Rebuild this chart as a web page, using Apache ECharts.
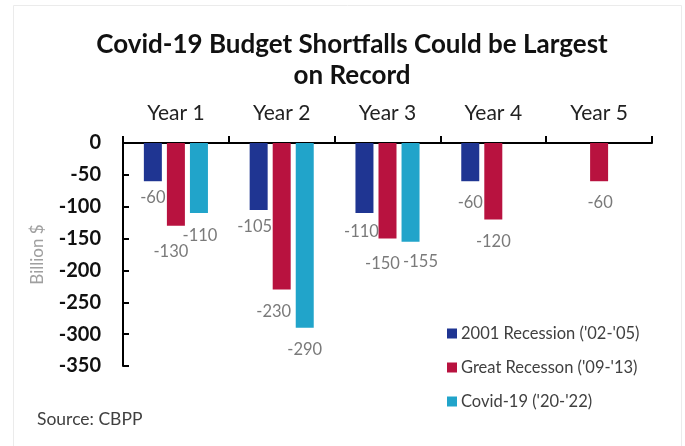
<!DOCTYPE html>
<html>
<head>
<meta charset="utf-8">
<script src="https://cdn.jsdelivr.net/npm/echarts@6/dist/echarts.min.js"></script>
<style>html,body{margin:0;padding:0;background:#fff;}#c{width:685px;height:446px;}</style>
</head>
<body>
<div id="c"></div>
<script>
var categories = ['Year 1', 'Year 2', 'Year 3', 'Year 4', 'Year 5'];
var recession2001 = [-60, -105, -110, -60, null];
var greatRecession = [-130, -230, -150, -120, -60];
var covid19 = [-110, -290, -155, null, null];
var seriesNames = ["2001 Recession ('02-'05)", "Great Recesson ('09-'13)", "Covid-19 ('20-'22)"];
var yTicks = { min: -350, max: 0, interval: 50 };

// label nudges (style only): [dx, dy] from the bar end
var nudgeBlue = [[0, 7], [-4, 8], [-3, 10], [0, 12], [0, 0]];
var nudgeRed = [[-5, 17], [-8, 13], [-5, 16], [0, 13], [1, 12]];
var nudgeCyan = [[1, 14], [0, 13], [10, 11], [0, 0], [0, 0]];

var FONT = 'Lato';
var colors = ['#1f3592', '#b8123f', '#21a4ca'];

function build(vals, nudges) {
  return vals.map(function (v, i) {
    if (v === null) return '-';
    return { value: v, label: { offset: nudges[i] } };
  });
}
var labelStyle = {
  show: true, position: 'bottom', distance: 0,
  fontFamily: FONT, fontSize: 16.5, color: '#7a7a7a', lineHeight: 18
};

var chart = echarts.init(document.getElementById('c'));
chart.setOption({
  animation: false,
  backgroundColor: '#fff',
  color: colors,
  graphic: [{
    type: 'rect', shape: { x: 13.5, y: 5.5, width: 668, height: 446 },
    style: { fill: 'none', stroke: '#ebebeb', lineWidth: 1 }, silent: true
  }, {
    type: 'text', left: 37, top: 410,
    style: { text: 'Source: CBPP', font: '17.5px ' + FONT, fill: '#404040' }
  }],
  title: {
    text: 'Covid-19 Budget Shortfalls Could be Largest\non Record',
    left: 347, textAlign: 'center', top: 24,
    textStyle: { fontFamily: FONT, fontWeight: 'bold', fontSize: 26, color: '#111', lineHeight: 31 }
  },
  legend: {
    orient: 'vertical', left: 442, top: 320,
    itemWidth: 10, itemHeight: 10, itemGap: 17,
    icon: 'rect',
    textStyle: { fontFamily: FONT, fontSize: 16.5, color: '#404040', padding: [0, 0, 0, -1] },
    data: seriesNames
  },
  grid: { left: 123, right: 33, top: 143, bottom: 80, containLabel: false },
  xAxis: {
    type: 'category', position: 'top', data: categories,
    axisLine: { onZero: false, lineStyle: { color: '#000', width: 2 } },
    axisTick: { show: true, inside: false, length: 7, lineStyle: { color: '#000', width: 2 } },
    axisLabel: { fontFamily: FONT, fontSize: 21, color: '#222', margin: 19 }
  },
  yAxis: {
    type: 'value', min: yTicks.min, max: yTicks.max, interval: yTicks.interval,
    name: 'Billion $', nameLocation: 'middle', nameGap: 77, nameRotate: 90,
    nameTextStyle: { fontFamily: FONT, fontSize: 17, color: '#a0a0a0' },
    axisLine: { show: true, lineStyle: { color: '#000', width: 2 } },
    axisTick: { show: true, inside: true, length: 6, lineStyle: { color: '#000', width: 2 } },
    axisLabel: { fontFamily: FONT, fontSize: 20, fontWeight: 'bold', color: '#111', margin: 22 },
    splitLine: { show: false }
  },
  series: [
    { name: seriesNames[0], type: 'bar', barWidth: 18, barGap: '28%', data: build(recession2001, nudgeBlue), label: labelStyle },
    { name: seriesNames[1], type: 'bar', barWidth: 18, barGap: '28%', data: build(greatRecession, nudgeRed), label: labelStyle },
    { name: seriesNames[2], type: 'bar', barWidth: 18, barGap: '28%', data: build(covid19, nudgeCyan), label: labelStyle }
  ]
});
</script>
</body>
</html>
